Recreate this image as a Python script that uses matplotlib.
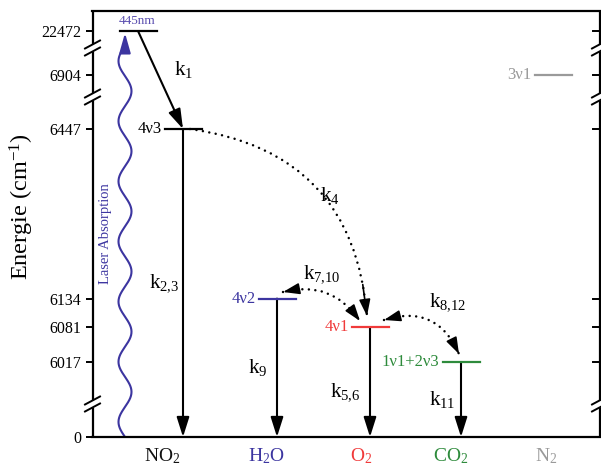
import numpy as np
import matplotlib
matplotlib.use("Agg")
import matplotlib.pyplot as plt
from matplotlib.patches import FancyArrowPatch
import matplotlib.transforms as mtransforms

plt.rcParams['font.family'] = ['Liberation Serif', 'DejaVu Serif']
plt.rcParams['mathtext.fontset'] = 'custom'
plt.rcParams['mathtext.rm'] = 'Liberation Serif'
plt.rcParams['mathtext.it'] = 'Liberation Serif:italic'

# ---------------- data ----------------
species = ['NO$_2$', 'H$_2$O', 'O$_2$', 'CO$_2$', 'N$_2$']
species_colors = ['#111111', '#3c35a0', '#f03a3a', '#2e8b3c', '#9a9a9a']
level_energy = [6447, 6134, 6081, 6017, 6904]
level_label = ['4\u03bd3', '4\u03bd2', '4\u03bd1', '1\u03bd1+2\u03bd3', '3\u03bd1']
excited_energy = 22472
excited_label = '445nm'
ytick_values = [0, 6017, 6081, 6134, 6447, 6904, 22472]
decay_labels = ['k$_{2{,}3}$', 'k$_{9}$', 'k$_{5{,}6}$', 'k$_{11}$']
rate_k1 = 'k$_1$'
rate_k4 = 'k$_4$'
rate_k7 = 'k$_{7{,}10}$'
rate_k8 = 'k$_{8{,}12}$'

# ---------------- layout ----------------
W, H = 601, 468
col_x = [183, 277, 370, 461, 553]
label_x = [162, 266, 361, 451, 546]
half = 18.5
# broken energy axis: energy knots -> vertical position (px above bottom)
e_knots = np.array([0, 6017, 6447, 6904, 22472, 30000], dtype=float)
p_knots = np.array([0, 75, 308, 362, 406, 426], dtype=float)

def fwd(e):
    return np.interp(e, e_knots, p_knots)

def inv(p):
    return np.interp(p, p_knots, e_knots)

fig = plt.figure(figsize=(W / 100, H / 100), dpi=100)
ax = fig.add_axes([92.5 / W, (H - 437) / H, (599.5 - 92.5) / W, 426 / H])
ax.set_yscale('function', functions=(fwd, inv))
ax.set_ylim(0, 30000)
ax.set_xlim(92.5, 599.5)

for s in ['left', 'right']:
    ax.spines[s].set_visible(False)
for s in ['top', 'bottom']:
    ax.spines[s].set_linewidth(1.6)

ax.set_yticks(ytick_values)
ax.set_yticklabels([str(v) for v in ytick_values], fontsize=11.5)
ax.tick_params(axis='y', which='both', direction='out', length=5, width=1.4,
               left=True, right=False, pad=3)
ax.minorticks_off()
ax.set_xticks(label_x)
ax.set_xticklabels(species, fontsize=14)
ax.tick_params(axis='x', length=0, pad=7)
for t, c in zip(ax.get_xticklabels(), species_colors):
    t.set_color(c)

ax.set_ylabel('Energie (cm$^{-1}$)', fontsize=17.5)
ax.yaxis.set_label_coords((36 - 92.5) / 507.0, (437 - 207) / 426.0)

# manual left / right spines with breaks
tb = ax.transAxes
brk_px = [48, 97, 404]
def fy(ypx):
    return (437 - ypx) / 426.0
for xs in [0.0, 1.0]:
    ys = [11]
    for b in brk_px:
        ys += [b - 4, b + 4]
    ys += [437]
    for i in range(0, len(ys), 2):
        ax.plot([xs, xs], [fy(ys[i]), fy(ys[i + 1])], color='black', lw=1.6,
                transform=tb, clip_on=False, solid_capstyle='butt')
    dx = 7.5 / 507.0
    for b in brk_px:
        for off in (-3.5, 3.5):
            ax.plot([xs - dx, xs + dx], [fy(b + off + 4), fy(b + off - 4)],
                    color='black', lw=1.4, transform=tb, clip_on=False)
# right side inward ticks
for v in ytick_values[1:]:
    ax.plot([599.5 - 7, 599.5], [v, v], color='black', lw=1.4, clip_on=False)

# ---------------- levels ----------------
ax.plot([120, 157], [excited_energy, excited_energy], color='black', lw=1.6)
ax.text(137, inv(406 + 10), excited_label, color='#5b4fb0', fontsize=9.5,
        ha='center', va='center')
for i, (e, lab) in enumerate(zip(level_energy, level_label)):
    c = 'black' if i == 0 else species_colors[i]
    x0 = col_x[i] - half
    ax.plot([x0, col_x[i] + half], [e, e], color=c, lw=1.6)
    ax.text(x0 - 3, e, lab, color=c, fontsize=12, ha='right', va='center')

head = '-|>,head_length=0.6,head_width=0.19'
def arrow(p0, p1, ls='-', cs='arc3,rad=0', style=head, lw=1.5):
    a = FancyArrowPatch(p0, p1, arrowstyle=style, mutation_scale=20,
                        color='black', lw=lw, linestyle=ls,
                        connectionstyle=cs, shrinkA=0, shrinkB=0)
    a.set_capstyle('round')
    ax.add_patch(a)
    return a

# decays to ground
for i in range(4):
    arrow((col_x[i], level_energy[i]), (col_x[i], 0))
# k1
arrow((138, excited_energy), (col_x[0], level_energy[0]))

# dotted transfers: dotted curve + solid heads along the curve tangent
dots = (0, (0.01, 2.6))
small_head = '-|>,head_length=0.5,head_width=0.17'

def dotted_transfer(p0, p1, rad, heads):
    arrow(p0, p1, ls=dots, cs='arc3,rad=%g' % rad, style='-', lw=1.8)
    P0 = ax.transData.transform(p0)
    P2 = ax.transData.transform(p1)
    mid = (P0 + P2) / 2.0
    dxy = P2 - P0
    C = np.array([mid[0] + rad * dxy[1], mid[1] - rad * dxy[0]])
    def bez(t):
        return (1 - t) ** 2 * P0 + 2 * t * (1 - t) * C + t ** 2 * P2
    inv_t = ax.transData.inverted()
    if 'end' in heads:
        a = FancyArrowPatch(inv_t.transform(bez(0.9)), p1, arrowstyle=small_head,
                            mutation_scale=20, color='black', lw=1.2,
                            shrinkA=0, shrinkB=0)
        ax.add_patch(a)
    if 'start' in heads:
        a = FancyArrowPatch(inv_t.transform(bez(0.1)), p0, arrowstyle=small_head,
                            mutation_scale=20, color='black', lw=1.2,
                            shrinkA=0, shrinkB=0)
        ax.add_patch(a)

fig.canvas.draw()
dotted_transfer((190, level_energy[0]), (367, inv(437 - 316)), -0.4, ['end'])
dotted_transfer((283, inv(437 - 292)), (360, inv(437 - 321)), -0.35, ['start', 'end'])
dotted_transfer((384, inv(437 - 320)), (459, inv(437 - 354)), -0.45, ['start', 'end'])

# rate labels
kfs = 15
ax.text(184, inv(437 - 70), rate_k1, fontsize=kfs, ha='center', va='center')
ax.text(164, inv(437 - 283), decay_labels[0], fontsize=kfs, ha='center', va='center')
ax.text(258, inv(437 - 367), decay_labels[1], fontsize=kfs, ha='center', va='center')
ax.text(345, inv(437 - 392), decay_labels[2], fontsize=kfs, ha='center', va='center')
ax.text(442, inv(437 - 399), decay_labels[3], fontsize=kfs, ha='center', va='center')
ax.text(330, inv(437 - 195), rate_k4, fontsize=kfs, ha='center', va='center')
ax.text(322, inv(437 - 274), rate_k7, fontsize=kfs, ha='center', va='center')
ax.text(448, inv(437 - 302), rate_k8, fontsize=kfs, ha='center', va='center')

# laser absorption wave
bt = mtransforms.blended_transform_factory(ax.transData, ax.transAxes)
d_end = 437 - 46
d = np.linspace(0, d_end, 600)
xw = 125 - 6.5 * np.sin(2 * np.pi * d / (d_end / 6.5))
ax.plot(xw, d / 426.0, color='#3c35a0', lw=1.5, transform=bt)
aw = FancyArrowPatch((125, (d_end - 2) / 426.0), (125, (437 - 33) / 426.0),
                     arrowstyle='-|>,head_length=0.6,head_width=0.17',
                     mutation_scale=20, color='#3c35a0', lw=1.5,
                     transform=bt, shrinkA=0, shrinkB=0)
ax.add_patch(aw)
ax.text(106, (437 - 234) / 426.0, 'Laser Absorption', color='#3c35a0',
        fontsize=10.5, rotation=90, ha='center', va='center', transform=bt)

fig.savefig('out.png', dpi=100)
